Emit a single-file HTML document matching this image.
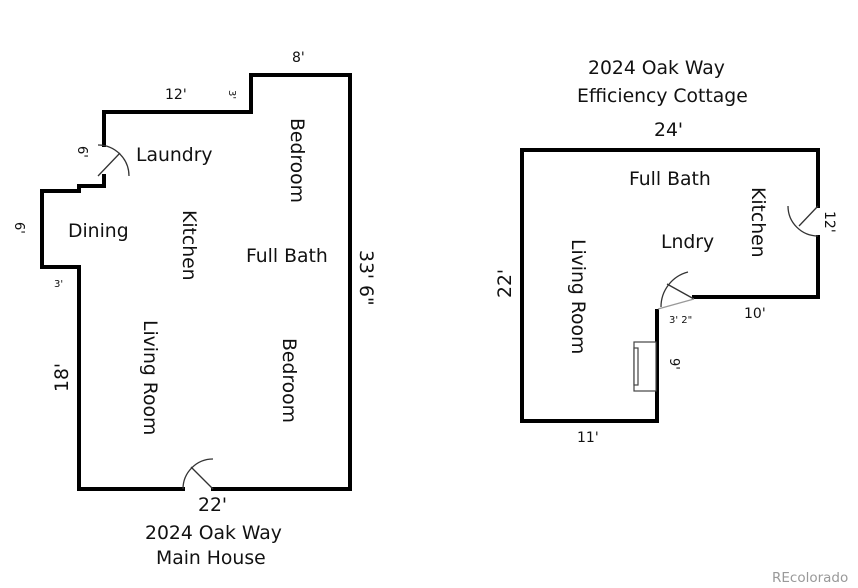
<!DOCTYPE html>
<html><head><meta charset="utf-8"><style>
html,body{margin:0;padding:0;background:#fff;}
svg{display:block;}
text{font-family:"DejaVu Sans","Liberation Sans",sans-serif;fill:#111;}
</style></head><body>
<svg width="858" height="588" viewBox="0 0 858 588" xmlns="http://www.w3.org/2000/svg">
<g fill="none" stroke="#000" stroke-width="4" stroke-linecap="square">
<polyline points="183,489 79,489 79,267 42,267 42,191 79,191 79,186 104,186 104,176"/>
<polyline points="104,145 104,112 251,112 251,75 350,75 350,489 213,489"/>
<polyline points="818,206 818,150 522,150 522,421 657,421 657,311"/>
<polyline points="818,237 818,297 694,297"/>
</g>
<g fill="none" stroke="#333" stroke-width="1.3">
<path d="M183,489 A30,30 0 0 1 213,459"/>
<line x1="213" y1="489" x2="191" y2="467"/>
<path d="M98,145 A31,31 0 0 1 129,176"/>
<line x1="98" y1="176" x2="120" y2="153"/>
<path d="M788,206 A30,30 0 0 0 818,236"/>
<line x1="818" y1="206" x2="799" y2="226"/>
<path d="M661,307 A36,36 0 0 1 688,272"/>
<line x1="694" y1="299" x2="667" y2="284"/>
<line x1="658" y1="309" x2="694" y2="299" stroke="#999"/>
</g>
<g fill="#fff" stroke="#444" stroke-width="1.2">
<rect x="634" y="342" width="22" height="49"/>
<rect x="634" y="348" width="4" height="37"/>
</g>
<g font-size="18.8">
<text x="136" y="161">Laundry</text>
<text x="68" y="237">Dining</text>
<text x="246" y="262">Full Bath</text>
<text x="183" y="210" transform="rotate(90 183 210)">Kitchen</text>
<text x="291" y="118" transform="rotate(90 291 118)">Bedroom</text>
<text x="283" y="338" transform="rotate(90 283 338)">Bedroom</text>
<text x="144" y="320" transform="rotate(90 144 320)">Living Room</text>
<text x="68" y="392" transform="rotate(-90 68 392)">18'</text>
<text x="360" y="250" transform="rotate(90 360 250)">33' 6"</text>
<text x="198" y="511">22'</text>
<text x="145" y="539">2024 Oak Way</text>
<text x="156" y="564">Main House</text>
<text x="588" y="74">2024 Oak Way</text>
<text x="577" y="102">Efficiency Cottage</text>
<text x="654" y="136">24'</text>
<text x="629" y="185">Full Bath</text>
<text x="661" y="248">Lndry</text>
<text x="752" y="187" transform="rotate(90 752 187)">Kitchen</text>
<text x="572" y="239" transform="rotate(90 572 239)">Living Room</text>
<text x="511" y="298" transform="rotate(-90 511 298)">22'</text>
</g>
<text x="165" y="99" font-size="14">12'</text>
<text x="292" y="62" font-size="14">8'</text>
<text x="229" y="90" font-size="10" transform="rotate(90 229 90)">3'</text>
<text x="78" y="146" font-size="13" transform="rotate(90 78 146)">6'</text>
<text x="15" y="222" font-size="13" transform="rotate(90 15 222)">6'</text>
<text x="54" y="287" font-size="10">3'</text>
<text x="825" y="211" font-size="14" transform="rotate(90 825 211)">12'</text>
<text x="744" y="318" font-size="14">10'</text>
<text x="669" y="323" font-size="10">3' 2"</text>
<text x="670" y="358" font-size="13" transform="rotate(90 670 358)">9'</text>
<text x="577" y="442" font-size="14">11'</text>
<text x="772" y="582" font-size="13.5" style="fill:#999">REcolorado</text>
</svg>
</body></html>
